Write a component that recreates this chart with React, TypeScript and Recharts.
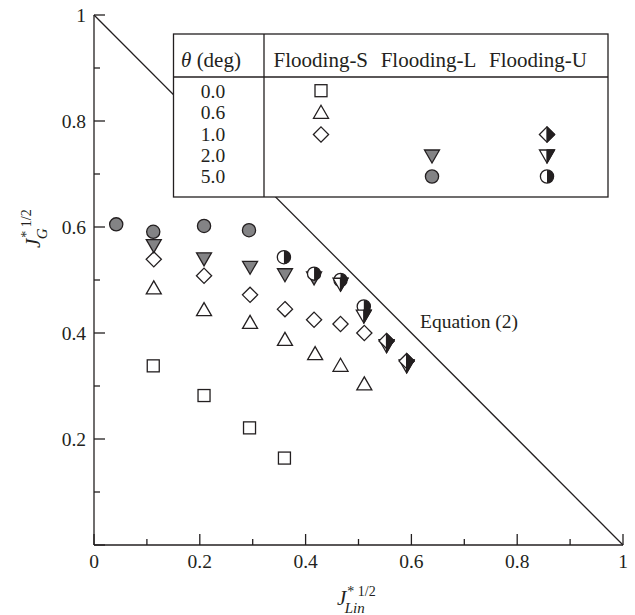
import React from 'react';
import { ScatterChart, Scatter, XAxis, YAxis, ReferenceLine } from 'recharts';

// ---------- data ----------
const tickValues = [0, 0.1, 0.2, 0.3, 0.4, 0.5, 0.6, 0.7, 0.8, 0.9, 1];
const majorTicks = [0, 0.2, 0.4, 0.6, 0.8, 1];
const xTickLabels = ['0', '0.2', '0.4', '0.6', '0.8', '1'];
const yTickLabels = ['', '0.2', '0.4', '0.6', '0.8', '1'];

// Flooding-S
const sTheta00X = [0.112, 0.208, 0.294, 0.36];
const sTheta00Y = [0.338, 0.282, 0.221, 0.164];
const sTheta06X = [0.113, 0.208, 0.295, 0.361, 0.418, 0.466, 0.511];
const sTheta06Y = [0.486, 0.445, 0.421, 0.389, 0.362, 0.34, 0.305];
const sTheta10X = [0.113, 0.208, 0.295, 0.361, 0.416, 0.466, 0.511];
const sTheta10Y = [0.539, 0.508, 0.472, 0.445, 0.425, 0.417, 0.4];
// Flooding-L
const lTheta20X = [0.113, 0.208, 0.295, 0.361, 0.416];
const lTheta20Y = [0.564, 0.539, 0.523, 0.509, 0.503];
const lTheta50X = [0.042, 0.112, 0.208, 0.293];
const lTheta50Y = [0.605, 0.591, 0.602, 0.594];
// Flooding-U
const uTheta10X = [0.553, 0.591];
const uTheta10Y = [0.385, 0.347];
const uTheta20X = [0.466, 0.51, 0.553, 0.591];
const uTheta20Y = [0.491, 0.431, 0.375, 0.337];
const uTheta50X = [0.359, 0.416, 0.466, 0.51];
const uTheta50Y = [0.543, 0.512, 0.5, 0.45];

const equationLine = [{ x: 0, y: 1 }, { x: 1, y: 0 }];
const thetaLabels = ['0.0', '0.6', '1.0', '2.0', '5.0'];
const columnLabels = ['Flooding-S', 'Flooding-L', 'Flooding-U'];

const zip = (xs: number[], ys: number[]) => xs.map((x, i) => ({ x, y: ys[i] }));

// ---------- styling ----------
const INK = '#231f20';
const GRAY = '#838385';
const FONT = '"Liberation Serif", "DejaVu Serif", serif';
const MAJOR = 11;
const MINOR = 6;

type Kind = 'square' | 'up' | 'down' | 'diamond' | 'circle';

function Marker({ cx, cy, kind, fill, half }: { cx: number; cy: number; kind: Kind; fill: string; half?: boolean }) {
  const sw = 1.3;
  if (cx == null || cy == null) return null;
  if (kind === 'square') {
    const h = 6;
    return <rect x={cx - h} y={cy - h} width={2 * h} height={2 * h} fill={fill} stroke={INK} strokeWidth={sw} />;
  }
  if (kind === 'circle') {
    const r = 6.6;
    return (
      <g>
        <circle cx={cx} cy={cy} r={r} fill={fill} stroke={INK} strokeWidth={sw} />
        {half && <path d={`M${cx},${cy - r} A${r},${r} 0 0 1 ${cx},${cy + r} Z`} fill={INK} />}
      </g>
    );
  }
  if (kind === 'diamond') {
    const r = 7.6;
    return (
      <g>
        <polygon points={`${cx},${cy - r} ${cx + r},${cy} ${cx},${cy + r} ${cx - r},${cy}`} fill={fill} stroke={INK} strokeWidth={sw} />
        {half && <polygon points={`${cx},${cy - r} ${cx + r},${cy} ${cx},${cy + r}`} fill={INK} stroke={INK} strokeWidth={sw} strokeLinejoin="round" />}
      </g>
    );
  }
  if (kind === 'up') {
    const w = 7.5, h = 6.5;
    return <polygon points={`${cx},${cy - h} ${cx + w},${cy + h} ${cx - w},${cy + h}`} fill={fill} stroke={INK} strokeWidth={sw} />;
  }
  const w = 7.5, h = 6.5;
  return (
    <g>
      <polygon points={`${cx - w},${cy - h} ${cx + w},${cy - h} ${cx},${cy + h}`} fill={fill} stroke={INK} strokeWidth={sw} />
      {half && <polygon points={`${cx},${cy - h} ${cx + w},${cy - h} ${cx},${cy + h}`} fill={INK} stroke={INK} strokeWidth={sw} strokeLinejoin="round" />}
    </g>
  );
}

const shapeOf = (kind: Kind, fill: string, half?: boolean) => (props: any) => (
  <Marker cx={props.cx} cy={props.cy} kind={kind} fill={fill} half={half} />
);

const isMajor = (v: number) => Math.round(v * 10) % 2 === 0;
const majorIndex = (v: number) => majorTicks.findIndex((m) => Math.abs(m - v) < 1e-6);

function BottomTick(props: any) {
  const { x, y, payload } = props;
  const v = payload.value;
  const idx = majorIndex(v);
  return (
    <g>
      <line x1={x} x2={x} y1={y} y2={y - (isMajor(v) ? MAJOR : MINOR)} stroke={INK} strokeWidth={1.3} />
      {idx >= 0 && (
        <text x={x} y={y + 23} textAnchor="middle" fontSize={19.5} fontFamily={FONT} fill={INK}>
          {xTickLabels[idx]}
        </text>
      )}
    </g>
  );
}
function TopTick(props: any) {
  const { x, y, payload } = props;
  const v = payload.value;
  return <line x1={x} x2={x} y1={y} y2={y + (isMajor(v) ? MAJOR : MINOR)} stroke={INK} strokeWidth={1.3} />;
}
function LeftTick(props: any) {
  const { x, y, payload } = props;
  const v = payload.value;
  const idx = majorIndex(v);
  return (
    <g>
      <line x1={x} x2={x + (isMajor(v) ? MAJOR : MINOR)} y1={y} y2={y} stroke={INK} strokeWidth={1.3} />
      {idx >= 0 && yTickLabels[idx] !== '' && (
        <text x={x - 8} y={y + 7} textAnchor="end" fontSize={19.5} fontFamily={FONT} fill={INK}>
          {yTickLabels[idx]}
        </text>
      )}
    </g>
  );
}
function RightTick(props: any) {
  const { x, y, payload } = props;
  const v = payload.value;
  return <line x1={x} x2={x - (isMajor(v) ? MAJOR : MINOR)} y1={y} y2={y} stroke={INK} strokeWidth={1.3} />;
}

const axisLine = { stroke: INK, strokeWidth: 1.3 };

function LegendTable() {
  const colX = [321, 432, 547];
  const rowY = [90.7, 111.8, 134.5, 156.5, 176.5];
  const baseY = [98, 119.3, 140.5, 162, 182.6];
  const headX = [320.8, 428.5, 538];
  return (
    <g>
      <rect x={173.5} y={34} width={434.5} height={163} fill="#fff" stroke={INK} strokeWidth={1.3} />
      <line x1={173.5} x2={608} y1={77} y2={77} stroke={INK} strokeWidth={1.3} />
      <line x1={264} x2={264} y1={34} y2={197} stroke={INK} strokeWidth={1.3} />
      <text x={211} y={67} textAnchor="middle" fontSize={21} fontFamily={FONT} fill={INK}>
        <tspan fontStyle="italic">θ</tspan> (deg)
      </text>
      {columnLabels.map((c, i) => (
        <text key={c} x={headX[i]} y={67} textAnchor="middle" fontSize={21} fontFamily={FONT} fill={INK}>
          {c}
        </text>
      ))}
      {thetaLabels.map((t, i) => (
        <text key={t} x={213} y={baseY[i]} textAnchor="middle" fontSize={19.5} fontFamily={FONT} fill={INK}>
          {t}
        </text>
      ))}
      <Marker cx={colX[0]} cy={rowY[0]} kind="square" fill="#fff" />
      <Marker cx={colX[0]} cy={rowY[1]} kind="up" fill="#fff" />
      <Marker cx={colX[0]} cy={rowY[2]} kind="diamond" fill="#fff" />
      <Marker cx={colX[1]} cy={rowY[3]} kind="down" fill={GRAY} />
      <Marker cx={colX[1]} cy={rowY[4]} kind="circle" fill={GRAY} />
      <Marker cx={colX[2]} cy={rowY[2]} kind="diamond" fill="#fff" half />
      <Marker cx={colX[2]} cy={rowY[3]} kind="down" fill="#fff" half />
      <Marker cx={colX[2]} cy={rowY[4]} kind="circle" fill="#fff" half />
    </g>
  );
}

function Overlay() {
  return (
    <svg width={635} height={615} style={{ position: 'absolute', left: 0, top: 0, pointerEvents: 'none' }}>
      <LegendTable />
      <text x={420} y={328} fontSize={19.5} fontFamily={FONT} fill={INK}>
        Equation (2)
      </text>
      {/* x axis title */}
      <text x={337} y={605} fontFamily={FONT} fill={INK}>
        <tspan fontSize={21} fontStyle="italic">J</tspan>
        <tspan fontSize={14} dx={1} dy={-9}>* 1/2</tspan>
        <tspan fontSize={15} fontStyle="italic" dx={-31} dy={17}>Lin</tspan>
      </text>
      {/* y axis title */}
      <g transform="translate(40,248) rotate(-90)">
        <text x={0} y={0} fontFamily={FONT} fill={INK}>
          <tspan fontSize={21} fontStyle="italic">J</tspan>
          <tspan fontSize={14} dx={1} dy={-9}>* 1/2</tspan>
          <tspan fontSize={15} fontStyle="italic" dx={-30} dy={16}>G</tspan>
        </text>
      </g>
    </svg>
  );
}

export default function App() {
  return (
    <div style={{ position: 'absolute', left: 0, top: 0, width: 635, height: 615 }}>
      <ScatterChart width={635} height={615} margin={{ top: 15, right: 12, bottom: 0, left: 8 }}>
        <XAxis
          xAxisId="b"
          type="number"
          dataKey="x"
          domain={[0, 1]}
          ticks={tickValues}
          interval={0}
          height={70}
          tickSize={0}
          tickMargin={0}
          tickLine={false}
          axisLine={axisLine}
          tick={<BottomTick />}
          allowDataOverflow
        />
        <XAxis
          xAxisId="t"
          orientation="top"
          type="number"
          dataKey="x"
          domain={[0, 1]}
          ticks={tickValues}
          interval={0}
          height={0}
          tickSize={0}
          tickMargin={0}
          tickLine={false}
          axisLine={axisLine}
          tick={<TopTick />}
          allowDataOverflow
        />
        <YAxis
          yAxisId="l"
          type="number"
          dataKey="y"
          domain={[0, 1]}
          ticks={tickValues}
          interval={0}
          width={86}
          tickSize={0}
          tickMargin={0}
          tickLine={false}
          axisLine={axisLine}
          tick={<LeftTick />}
          allowDataOverflow
        />
        <YAxis
          yAxisId="r"
          orientation="right"
          type="number"
          dataKey="y"
          domain={[0, 1]}
          ticks={tickValues}
          interval={0}
          width={0}
          tickSize={0}
          tickMargin={0}
          tickLine={false}
          axisLine={axisLine}
          tick={<RightTick />}
          allowDataOverflow
        />
        <ReferenceLine
          xAxisId="b"
          yAxisId="l"
          segment={equationLine}
          stroke={INK}
          strokeWidth={1.3}
          ifOverflow="visible"
        />
        <Scatter xAxisId="b" yAxisId="l" data={zip(sTheta00X, sTheta00Y)} shape={shapeOf('square', '#fff')} isAnimationActive={false} />
        <Scatter xAxisId="b" yAxisId="l" data={zip(sTheta06X, sTheta06Y)} shape={shapeOf('up', '#fff')} isAnimationActive={false} />
        <Scatter xAxisId="b" yAxisId="l" data={zip(sTheta10X, sTheta10Y)} shape={shapeOf('diamond', '#fff')} isAnimationActive={false} />
        <Scatter xAxisId="b" yAxisId="l" data={zip(lTheta20X, lTheta20Y)} shape={shapeOf('down', GRAY)} isAnimationActive={false} />
        <Scatter xAxisId="b" yAxisId="l" data={zip(lTheta50X, lTheta50Y)} shape={shapeOf('circle', GRAY)} isAnimationActive={false} />
        <Scatter xAxisId="b" yAxisId="l" data={zip(uTheta50X, uTheta50Y)} shape={shapeOf('circle', '#fff', true)} isAnimationActive={false} />
        <Scatter xAxisId="b" yAxisId="l" data={zip(uTheta20X, uTheta20Y)} shape={shapeOf('down', '#fff', true)} isAnimationActive={false} />
        <Scatter xAxisId="b" yAxisId="l" data={zip(uTheta10X, uTheta10Y)} shape={shapeOf('diamond', '#fff', true)} isAnimationActive={false} />
      </ScatterChart>
      <Overlay />
    </div>
  );
}
